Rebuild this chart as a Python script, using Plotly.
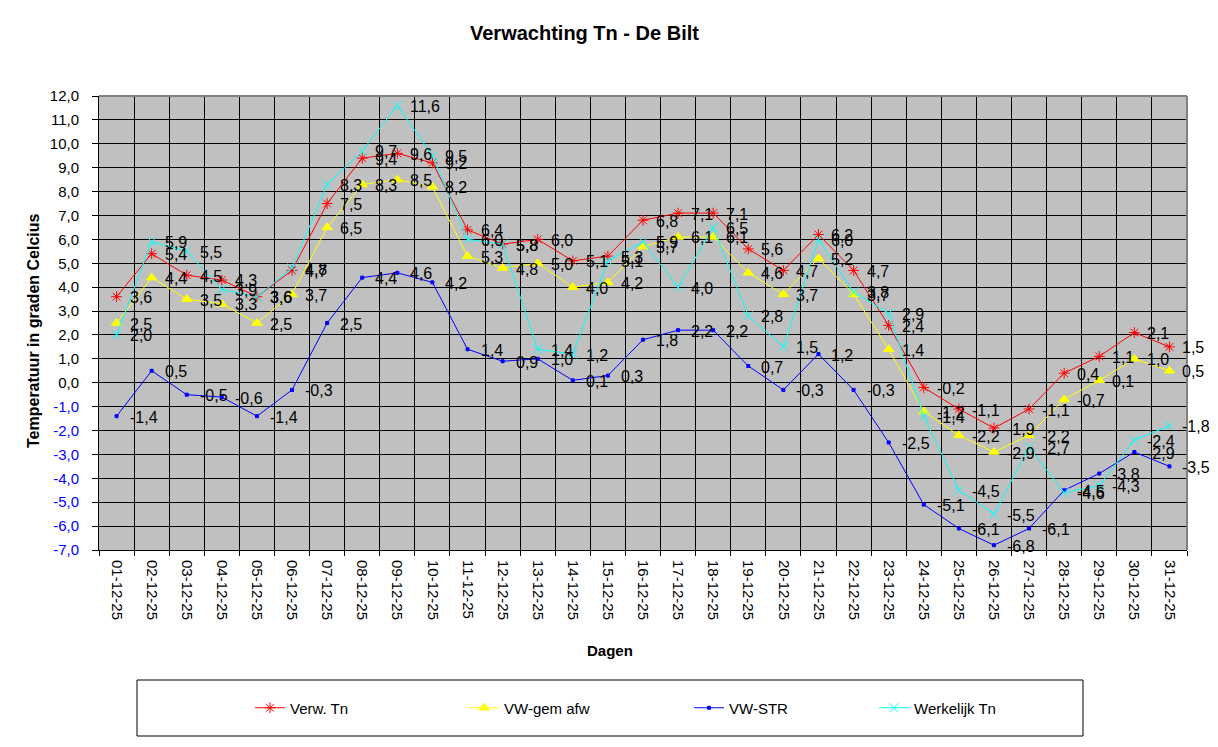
import plotly.graph_objects as go

# data
dagen = [f"{d:02d}-12-25" for d in range(1, 32)]

verw_tn = [3.6, 5.4, 4.5, 4.3, 3.6, 4.7, 7.5, 9.4, 9.6, 9.2, 6.4, 5.8, 6.0, 5.1, 5.3, 6.8,
           7.1, 7.1, 5.6, 4.7, 6.2, 4.7, 2.4, -0.2, -1.1, -1.9, -1.1, 0.4, 1.1, 2.1, 1.5]
vw_gem_afw = [2.5, 4.4, 3.5, 3.3, 2.5, 3.7, 6.5, 8.3, 8.5, 8.2, 5.3, 4.8, 5.0, 4.0, 4.2, 5.7,
              6.1, 6.1, 4.6, 3.7, 5.2, 3.7, 1.4, -1.2, -2.2, -2.9, -2.2, -0.7, 0.1, 1.0, 0.5]
vw_str = [-1.4, 0.5, -0.5, -0.6, -1.4, -0.3, 2.5, 4.4, 4.6, 4.2, 1.4, 0.9, 1.0, 0.1, 0.3, 1.8,
          2.2, 2.2, 0.7, -0.3, 1.2, -0.3, -2.5, -5.1, -6.1, -6.8, -6.1, -4.5, -3.8, -2.9, -3.5]
werkelijk_tn = [2.0, 5.9, 5.5, 3.9, 3.6, 4.8, 8.3, 9.7, 11.6, 9.5, 6.0, 5.8, 1.4, 1.2, 5.1, 5.9,
                4.0, 6.5, 2.8, 1.5, 6.0, 3.8, 2.9, -1.4, -4.5, -5.5, -2.7, -4.6, -4.3, -2.4, -1.8]

y_ticks = list(range(-7, 13))

FONT = "Liberation Sans, Arial, sans-serif"

# plotgebied in schermpixels (pagina heeft 8px body-marge)
PX0, PX1, PY0, PY1 = 99, 1187, 96, 550
PW, PH = PX1 - PX0, PY1 - PY0


def px(x):
    return (x - PX0) / PW


def py(y):
    return (PY1 - y) / PH


def nl(v):
    # komma als decimaalteken
    return f"{v:.1f}".replace(".", ",")


series = [
    ("Verw. Tn", verw_tn, "#FF0000", "asterisk-open", 9, "legend", 250),
    ("VW-gem afw", vw_gem_afw, "#FFFF00", "triangle-up", 9, "legend2", 464),
    ("VW-STR", vw_str, "#0000FF", "square", 3, "legend3", 689),
    ("Werkelijk Tn", werkelijk_tn, "#00FFFF", "x-thin-open", 9, "legend4", 874),
]

fig = go.Figure()
annotations = []
legends = {}
for naam, vals, kleur, symbool, grootte, leg, leg_x in series:
    fig.add_trace(go.Scatter(
        x=dagen, y=vals, name=naam,
        mode="lines+markers",
        line=dict(color=kleur, width=1),
        marker=dict(symbol=symbool, size=grootte, color=kleur,
                    line=dict(color=kleur, width=1)),
        legend=leg,
    ))
    legends[leg] = dict(
        orientation="h", x=px(leg_x), xanchor="left",
        y=py(708), yanchor="middle",
        font=dict(family=FONT, size=15, color="black"),
        bgcolor="rgba(0,0,0,0)", borderwidth=0,
    )
    # datalabels rechts van elk punt
    for d, v in zip(dagen, vals):
        annotations.append(dict(
            x=d, y=v, xref="x", yref="y", text=nl(v),
            xanchor="left", yanchor="middle", xshift=11, yshift=-1,
            showarrow=False, font=dict(family=FONT, size=16, color="black"),
        ))

ticktext = []
for t in y_ticks:
    if t < 0:
        ticktext.append(f"<span style='color:#0000FF'>{nl(t)}</span>")
    else:
        ticktext.append(nl(t))

annotations += [
    dict(text="<b>Verwachting Tn - De Bilt</b>", xref="paper", yref="paper",
         x=px(584), y=py(33), xanchor="center", yanchor="middle",
         showarrow=False, font=dict(family=FONT, size=20)),
    dict(text="<b>Temperatuur in graden Celcius</b>", xref="paper", yref="paper",
         x=px(33), y=py(331), xanchor="center", yanchor="middle",
         textangle=-90, showarrow=False, font=dict(family=FONT, size=16)),
    dict(text="<b>Dagen</b>", xref="paper", yref="paper",
         x=px(610), y=py(650), xanchor="center", yanchor="middle",
         showarrow=False, font=dict(family=FONT, size=15)),
]

fig.update_layout(
    width=1210, height=739,
    margin=dict(l=PX0 - 8, r=1218 - PX1, t=PY0 - 8, b=747 - PY1),
    paper_bgcolor="white",
    plot_bgcolor="#C0C0C0",
    font=dict(family=FONT, size=15, color="black"),
    showlegend=True,
    xaxis=dict(
        type="category",
        range=[-0.5, 30.5],
        tickson="boundaries",
        tickangle=90,
        ticks="outside", ticklen=5, tickcolor="black",
        ticklabelstandoff=6,
        showline=True, linecolor="black", linewidth=1,
        showgrid=True, gridcolor="black", gridwidth=1,
        tickfont=dict(family=FONT, size=15),
    ),
    yaxis=dict(
        range=[-7, 12],
        tickvals=y_ticks, ticktext=ticktext,
        ticks="outside", ticklen=6, tickcolor="black",
        ticklabelstandoff=10,
        showline=True, linecolor="black", linewidth=1,
        showgrid=True, gridcolor="black", gridwidth=1,
        zeroline=False,
        tickfont=dict(family=FONT, size=15),
    ),
    annotations=annotations,
    shapes=[
        # grijze rand boven en rechts
        dict(type="line", xref="paper", yref="paper", x0=0, x1=1, y0=1, y1=1,
             line=dict(color="#808080", width=2)),
        dict(type="line", xref="paper", yref="paper", x0=1, x1=1, y0=0, y1=1,
             line=dict(color="#808080", width=2)),
        # legenda kader
        dict(type="rect", xref="paper", yref="paper",
             x0=px(137), x1=px(1083), y0=py(736), y1=py(680),
             line=dict(color="black", width=1)),
    ],
    **legends,
)

fig.write_html("out.html")
